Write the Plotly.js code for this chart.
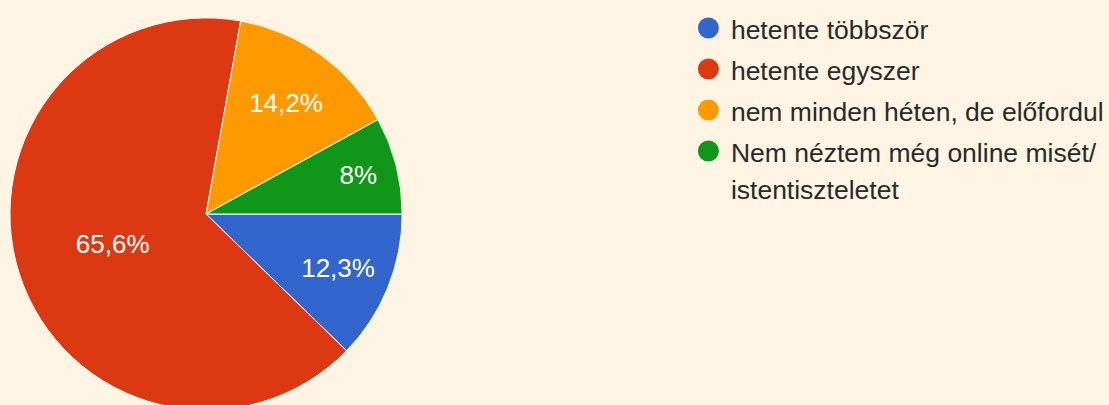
<!DOCTYPE html>
<html>
<head>
<meta charset="utf-8">
<script src="https://cdn.plot.ly/plotly-3.0.1.min.js"></script>
<style>
html, body { margin: 0; padding: 0; overflow: hidden; background: #fdf4e3; }
#chart { width: 1109px; height: 430px; }
</style>
</head>
<body>
<div id="chart"></div>
<script>
// Data
var categories = ["hetente többször", "hetente egyszer", "nem minden héten, de előfordul", "Nem néztem még online misét/ istentiszteletet"];
var values = [12.3, 65.6, 14.2, 8];
var colors = ["#3366cc", "#dc3912", "#ff9900", "#109618"];

var W = 1109, H = 430;
var FONT = "Liberation Sans, Arial, sans-serif";
var TXT = 26.5;

var pieText = values.map(function (v) { return String(v).replace('.', ',') + '%'; });

var traces = [{
  type: 'pie',
  labels: categories,
  values: values,
  text: pieText,
  textinfo: 'text',
  textposition: 'inside',
  insidetextorientation: 'horizontal',
  sort: false,
  direction: 'clockwise',
  rotation: 90,
  marker: { colors: colors, line: { color: '#ffffff', width: 1 } },
  textfont: { color: '#ffffff', size: 26, family: FONT },
  showlegend: false,
  hoverinfo: 'label+percent',
  domain: { x: [10 / W, 404 / W], y: [1 - 412 / H, 1 - 16 / H] }
}];

categories.forEach(function (c, i) {
  var lines = c.split('/ ');
  var name = lines.map(function (l, j) {
    return '<span style="font-size:' + TXT + 'px">' + l + (j < lines.length - 1 ? '/' : '') + '</span>';
  }).join('<br>');
  traces.push({
    type: 'scatter',
    mode: 'markers',
    x: [null], y: [null],
    name: name,
    legendgroup: 'g' + i,
    marker: { color: colors[i], size: 16, symbol: 'circle', line: { color: colors[i], width: 5 } },
    hoverinfo: 'skip'
  });
});

var layout = {
  width: W, height: H,
  margin: { l: 0, r: 0, t: 0, b: 0 },
  paper_bgcolor: '#fdf4e3',
  plot_bgcolor: 'rgba(0,0,0,0)',
  xaxis: { visible: false },
  yaxis: { visible: false },
  showlegend: true,
  legend: {
    x: 689 / W, xanchor: 'left',
    y: 1 - 3 / H, yanchor: 'top',
    bgcolor: 'rgba(0,0,0,0)',
    font: { family: FONT, size: 37 / 1.3, color: '#2a2a2a' },
    tracegroupgap: 1,
    itemwidth: 35,
    valign: 'top',
    itemclick: false, itemdoubleclick: false
  }
};

Plotly.newPlot('chart', traces, layout, { displayModeBar: false, staticPlot: true });
</script>
</body>
</html>
